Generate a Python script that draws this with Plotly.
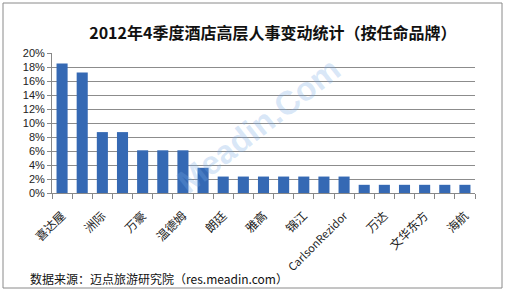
import plotly.graph_objects as go

title = "2012年4季度酒店高层人事变动统计（按任命品牌）"
source = "数据来源：迈点旅游研究院（res.meadin.com）"
watermark = "Meadin.Com"

# 21 brands; only every other name is printed on the axis in the original
categories = ["喜达屋", "", "洲际", "", "万豪", "", "温德姆", "", "朗廷", "",
              "雅高", "", "锦江", "", "CarlsonRezidor", "", "万达", "",
              "文华东方", "", "海航"]
values = [0.185, 0.172, 0.087, 0.087, 0.061, 0.061, 0.061, 0.036, 0.0235, 0.0235,
          0.0235, 0.0235, 0.0235, 0.0235, 0.0235, 0.0117, 0.0117, 0.0117, 0.0117,
          0.0117, 0.0117]
y_ticks = [0, 0.02, 0.04, 0.06, 0.08, 0.10, 0.12, 0.14, 0.16, 0.18, 0.20]

x = list(range(len(values)))
label_pos = [i for i, c in enumerate(categories) if c]
label_txt = [categories[i] if categories[i].isascii() is False
             else '<span style="font-size:11px">' + categories[i] + '</span>'
             for i in label_pos]
boundaries = [i - 0.5 for i in range(len(values) + 1)]

fig = go.Figure(go.Bar(
    x=x, y=values,
    marker=dict(color="#3569b4", line=dict(width=0)),
    width=0.55,
))

fig.update_layout(
    width=510, height=292,
    margin=dict(l=52, r=35, t=53, b=99),
    paper_bgcolor="white", plot_bgcolor="white",
    showlegend=False,
    title=dict(text="<b>" + title + "</b>", x=0.535, xanchor="center", y=0.885, yanchor="middle",
               font=dict(family="Noto Sans CJK SC", size=16, color="#111")),
    xaxis=dict(
        range=[-0.5, len(values) - 0.5],
        tickmode="array", tickvals=label_pos, ticktext=label_txt,
        tickangle=-45, ticks="", showgrid=False, ticklabelstandoff=10,
        showline=True, linecolor="#888", linewidth=1,
        tickfont=dict(family="Noto Sans CJK SC", size=12, color="#222"),
        minor=dict(tickvals=boundaries, ticks="outside", ticklen=5, tickcolor="#888", showgrid=False),
    ),
    yaxis=dict(
        range=[0, 0.2], tickmode="array", tickvals=y_ticks, tickformat=".0%",
        showgrid=True, gridcolor="#8c8c8c", gridwidth=1,
        showline=True, linecolor="#888", linewidth=1,
        ticks="outside", ticklen=4, tickcolor="#888",
        tickfont=dict(family="Arial, Liberation Sans", size=11, color="#222"),
        zeroline=False,
    ),
    shapes=[dict(type="rect", xref="paper", yref="paper",
                 x0=-49/423, x1=450/423, y0=-(288-193)/140, y1=(193-3)/140,
                 line=dict(color="#8a8a8a", width=1), fillcolor="rgba(0,0,0,0)", layer="below")],
    annotations=[
        dict(text=source, xref="paper", yref="paper", x=-24/423, y=-(278-193)/140,
             xanchor="left", yanchor="middle", showarrow=False,
             font=dict(family="Noto Sans CJK SC", size=12, color="#111")),
        dict(text="<b>" + watermark + "</b>", xref="paper", yref="paper",
             x=(258-52)/423, y=(193-125)/140, xanchor="center", yanchor="middle",
             showarrow=False, textangle=-38,
             font=dict(family="Arial, Liberation Sans", size=33, color="rgba(120,170,230,0.28)")),
    ],
)

fig.write_html("out.html")
